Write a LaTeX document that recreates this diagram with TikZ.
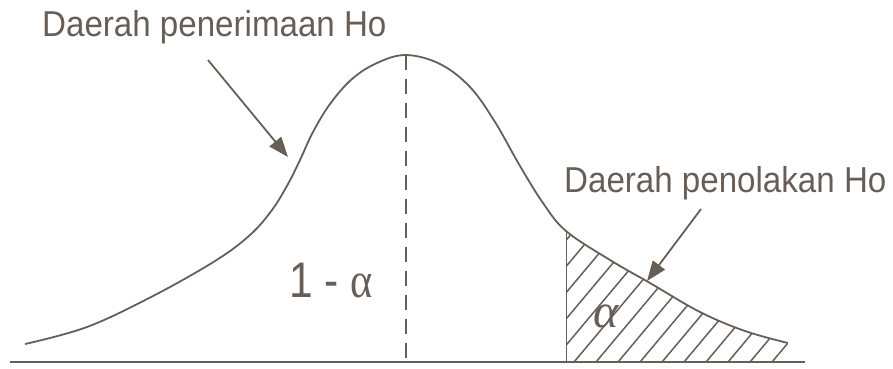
\documentclass[tikz,border=0pt]{standalone}
\usepackage{fontspec}
\setmainfont{Liberation Sans}
\newfontfamily\serifgreek{Liberation Serif}
\usetikzlibrary{arrows.meta}
\definecolor{ink}{HTML}{675F57}
\tikzset{
  curveline/.style={draw=ink, line width=1.8pt},
  baseline/.style={draw=ink, line width=2.6pt},
  hatchline/.style={draw=ink, line width=1.5pt},
  midline/.style={draw=ink, line width=1.8pt, dash pattern=on 15pt off 9pt},
  pointer/.style={draw=ink, line width=1.8pt, -{Triangle[length=20pt,width=15pt]}},
  lbl/.style={text=ink, inner sep=0pt, font=\fontsize{36}{40}\selectfont},
}
\begin{document}
\begin{tikzpicture}[x=1pt,y=-1pt]
\useasboundingbox (0,0) rectangle (893,368);
% hatched tail
\begin{scope}
  \clip (566,0) rectangle (893,362);
  \clip (25,362) -- plot[smooth,tension=0.6] coordinates {(25,344) (87,327) (153,296) (215,261) (250,235) (272,210) (288,184) (300,160) (313,132) (330,104) (352,79) (377,63) (406,55) (440,64) (470,87) (495,122) (520,166) (543,203) (566,231) (610,260) (650,283) (700,312) (745,331) (788,343)} -- (788,362) -- cycle;
  \foreach \k in {0,...,17} {
    \draw[hatchline] ({772-22*\k},362) -- ++(140,-167);
  }
  \draw[hatchline] (566,364) -- (566,200);
\end{scope}
% curve
\draw[curveline] plot[smooth,tension=0.6] coordinates {(25,344) (87,327) (153,296) (215,261) (250,235) (272,210) (288,184) (300,160) (313,132) (330,104) (352,79) (377,63) (406,55) (440,64) (470,87) (495,122) (520,166) (543,203) (566,231) (610,260) (650,283) (700,312) (745,331) (788,343)};
% axis
\coordinate (axl) at (10,362);
\coordinate (axr) at (805,362);
\draw[baseline] (axl) -- (axr);
% mean line
\coordinate (peak) at (406,55);
\coordinate (mid) at (406,362);
\draw[midline] (peak) -- (mid);
% labels
\node[lbl, anchor=base west] (acc) at (42,36) {\scalebox{0.92}[1]{Daerah penerimaan Ho}};
\node[lbl, anchor=base west] (rej) at (564,192) {\scalebox{0.92}[1]{Daerah penolakan Ho}};
\node[text=ink, inner sep=0pt, anchor=base west, font=\fontsize{50}{56}\selectfont] (oneminus) at (289,297) {\scalebox{0.85}[1]{1 - {\serifgreek α}}};
\node[text=ink, inner sep=0pt, font=\fontsize{48}{50}\selectfont\serifgreek\itshape] (alpha) at (606,316) {α};
% pointers
\coordinate (a1s) at (208,60);
\coordinate (a1e) at (288,157);
\draw[pointer] (a1s) -- (a1e);
\coordinate (a2s) at (701,209);
\coordinate (a2e) at (647,281);
\draw[pointer] (a2s) -- (a2e);
\end{tikzpicture}
\end{document}
